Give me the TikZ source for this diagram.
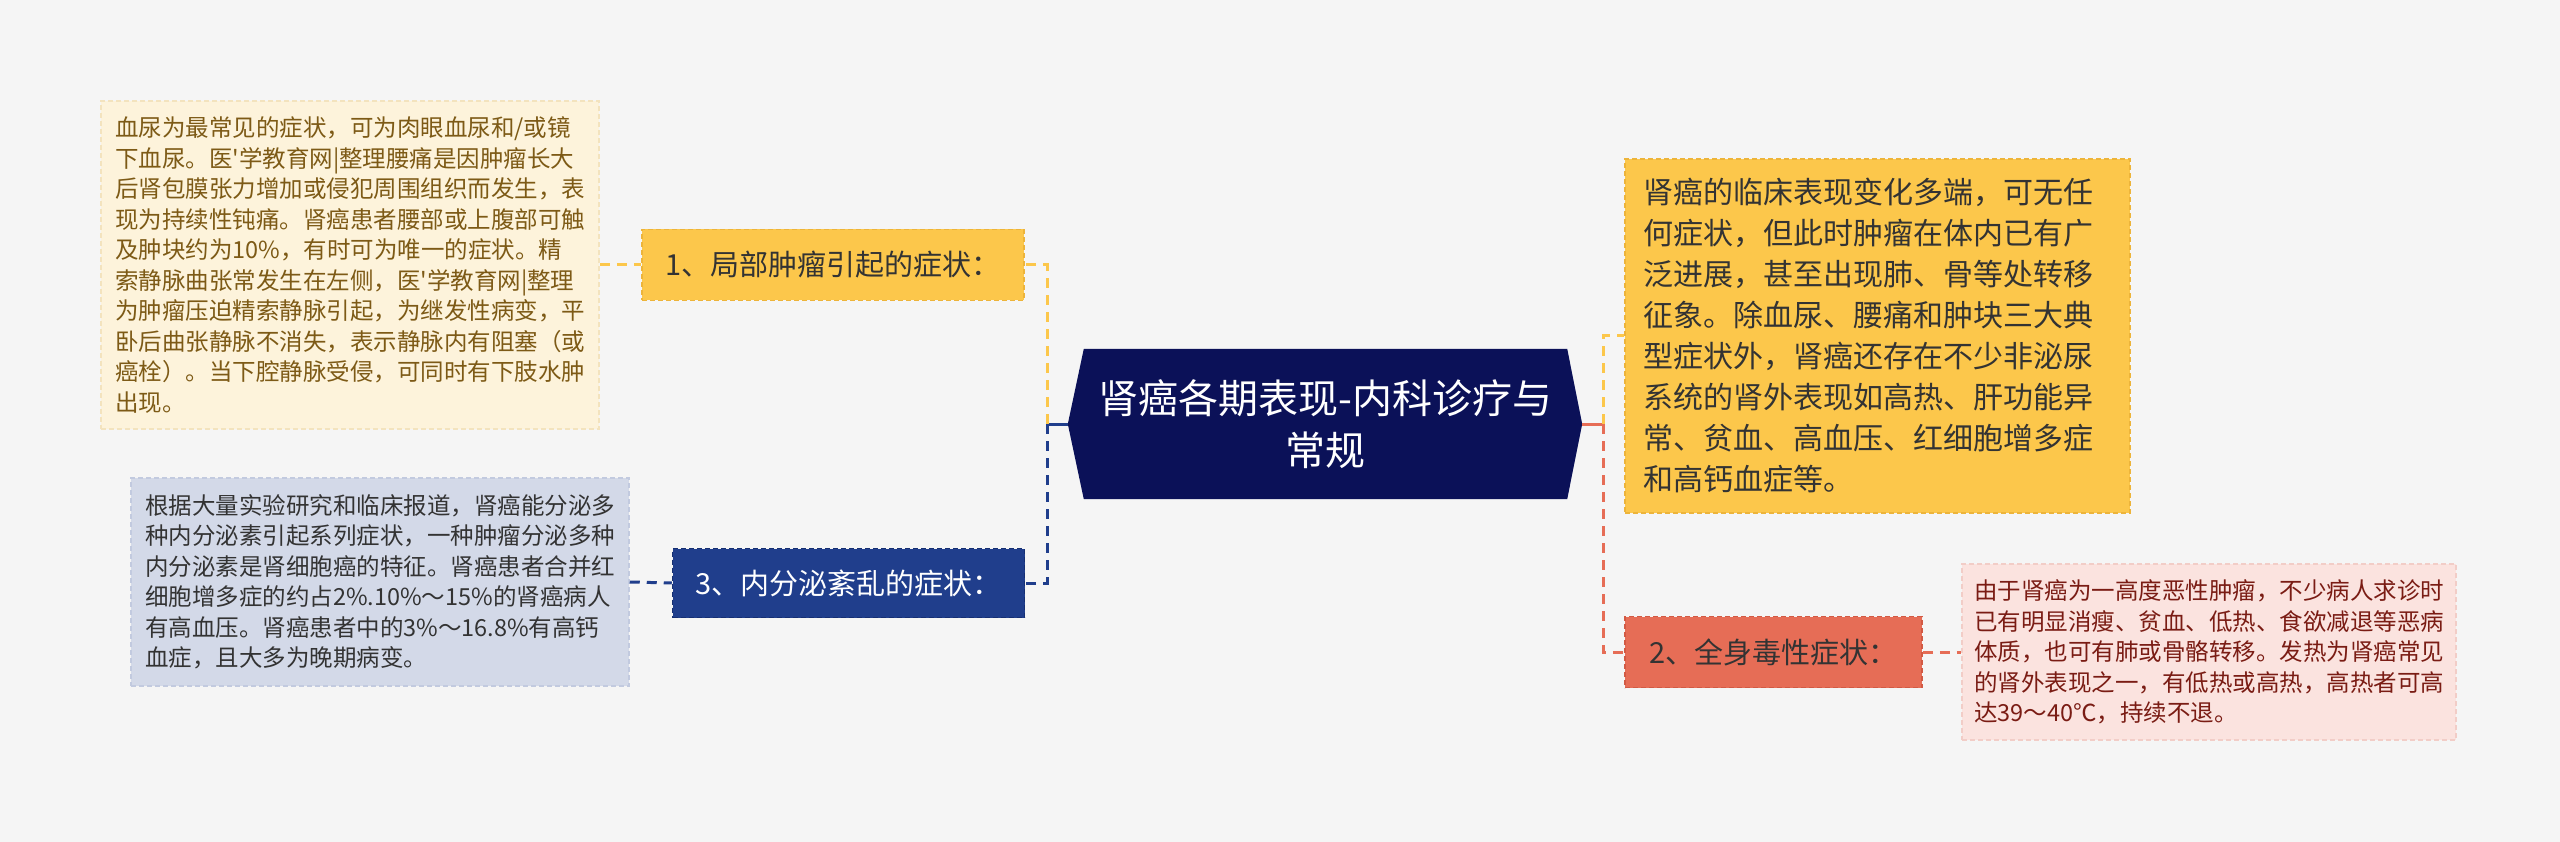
\documentclass[tikz,border=0pt]{standalone}
\usepackage{fontspec}
\usetikzlibrary{backgrounds}
\newfontfamily\zhfont{Noto Sans CJK SC}

\definecolor{bgcol}{HTML}{F5F5F5}
\definecolor{navy}{HTML}{0B1158}
\definecolor{amber}{HTML}{FCC74B}
\definecolor{amberline}{HTML}{EDB43A}
\definecolor{cream}{HTML}{FDF3DB}
\definecolor{creamline}{HTML}{F3E3BE}
\definecolor{creamtext}{HTML}{7D5A16}
\definecolor{cobalt}{HTML}{203E8C}
\definecolor{cobaltline}{HTML}{162F72}
\definecolor{mist}{HTML}{D3D9E8}
\definecolor{mistline}{HTML}{C2CADF}
\definecolor{coral}{HTML}{E66D56}
\definecolor{coralline}{HTML}{D25A44}
\definecolor{blush}{HTML}{FBE3DF}
\definecolor{blushline}{HTML}{F2CDC7}
\definecolor{blushtext}{HTML}{7A1C14}
\definecolor{inktext}{HTML}{333333}

\newcommand\leaffont{\zhfont\fontsize{23.5}{30.5}\selectfont}
\newcommand\branchfont{\zhfont\fontsize{29}{36}\selectfont}

\tikzset{
  boxbase/.style={rectangle, inner sep=0pt, line width=1.5pt, dash pattern=on 5pt off 3pt},
  leafbox/.style={boxbase, text width=470pt, align=left, font=\leaffont},
  branchbox/.style={boxbase, font=\branchfont},
  rootbox/.style={rectangle, inner sep=0pt, minimum width=483pt, minimum height=150pt,
    text width=470pt, align=center, text=white, font=\zhfont\fontsize{40}{52}\selectfont},
  link/.style={line width=3pt, dash pattern=on 10pt off 7pt},
  trunk/.style={line width=3pt}
}

\begin{document}
\begin{tikzpicture}[x=1pt,y=-1pt]
\node[rootbox] (root) at (1325.5,424) {肾癌各期表现-内科诊疗与\\常规};
\coordinate (rootw) at ([xshift=-16pt]root.west);
\coordinate (roote) at ([xshift=15pt]root.east);
\begin{scope}[on background layer]
\fill[bgcol] (0,0) rectangle (2560,842);
\fill[navy] (rootw) -- (root.north west) -- (root.north east) -- (roote) -- (root.south east) -- (root.south west) -- cycle;
\end{scope}

\node[branchbox, draw=amberline, fill=amber, text=inktext, minimum width=382pt, minimum height=71pt] (p1) at (833,265) {1、局部肿瘤引起的症状：};
\node[branchbox, draw=cobaltline, fill=cobalt, text=white, minimum width=352pt, minimum height=69pt] (p3) at (848.5,583) {3、内分泌紊乱的症状：};
\node[branchbox, draw=coralline, fill=coral, text=inktext, minimum width=297pt, minimum height=71pt] (p2) at (1773.5,652) {2、全身毒性症状：};
\node[boxbase, draw=amberline, fill=amber, text=inktext, text width=469pt, align=left,
  minimum width=505pt, minimum height=354pt, font=\zhfont\fontsize{30}{41}\selectfont] (r1) at (1877.5,336)
  {肾癌的临床表现变化多端，可无任\\何症状，但此时肿瘤在体内已有广\\泛进展，甚至出现肺、骨等处转移\\征象。除血尿、腰痛和肿块三大典\\型症状外，肾癌还存在不少非泌尿\\系统的肾外表现如高热、肝功能异\\常、贫血、高血压、红细胞增多症\\和高钙血症等。};

\node[leafbox, draw=creamline, fill=cream, text=creamtext, minimum width=498pt, minimum height=328pt] (l1) at (350,265)
  {血尿为最常见的症状，可为肉眼血尿和/或镜\\下血尿。医'学教育网|整理腰痛是因肿瘤长大\\后肾包膜张力增加或侵犯周围组织而发生，表\\现为持续性钝痛。肾癌患者腰部或上腹部可触\\及肿块约为10\%，有时可为唯一的症状。精\\索静脉曲张常发生在左侧，医'学教育网|整理\\为肿瘤压迫精索静脉引起，为继发性病变，平\\卧后曲张静脉不消失，表示静脉内有阻塞（或\\癌栓）。当下腔静脉受侵，可同时有下肢水肿\\出现。};
\node[leafbox, draw=mistline, fill=mist, text=inktext, minimum width=498pt, minimum height=208pt] (l3) at (380,582)
  {根据大量实验研究和临床报道，肾癌能分泌多\\种内分泌素引起系列症状，一种肿瘤分泌多种\\内分泌素是肾细胞癌的特征。肾癌患者合并红\\细胞增多症的约占2\%.10\%～15\%的肾癌病人\\有高血压。肾癌患者中的3\%～16.8\%有高钙\\血症，且大多为晚期病变。};
\node[leafbox, draw=blushline, fill=blush, text=blushtext, minimum width=494pt, minimum height=176pt] (l2) at (2209,652)
  {由于肾癌为一高度恶性肿瘤，不少病人求诊时\\已有明显消瘦、贫血、低热、食欲减退等恶病\\体质，也可有肺或骨骼转移。发热为肾癌常见\\的肾外表现之一，有低热或高热，高热者可高\\达39～40℃，持续不退。};

\coordinate (jl) at (1047,424);
\coordinate (jr) at (1603,424);
\draw[trunk, cobalt] (rootw) -- (jl);
\draw[trunk, coral] (roote) -- (jr);
\draw[link, amber] (jl) |- (p1.east);
\draw[link, cobalt] (jl) |- (p3.east);
\draw[link, amber] (jr) |- (r1.west);
\draw[link, coral] (jr) |- (p2.west);
\draw[link, amber] (l1.east) -- (p1.west);
\draw[link, cobalt] (l3.east) -- (p3.west);
\draw[link, coral] (p2.east) -- (l2.west);
\end{tikzpicture}
\end{document}
